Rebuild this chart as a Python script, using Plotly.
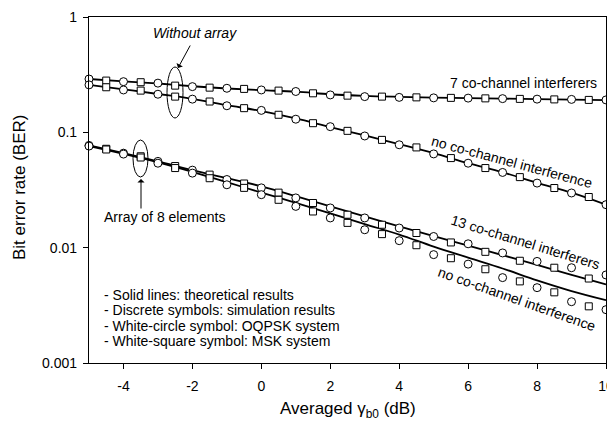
import plotly.graph_objects as go

# ---------------- data ----------------
x_th = [-5, -4, -3, -2, -1, 0, 1, 2, 3, 4, 5, 6, 7, 8, 9, 10]
x_circ = [-5, -4, -3, -2, -1, 0, 1, 2, 3, 4, 5, 6, 7, 8, 9, 10]
x_sq = [-4.5, -3.5, -2.5, -1.5, -0.5, 0.5, 1.5, 2.5, 3.5, 4.5, 5.5, 6.5, 7.5, 8.5, 9.5]

# Without array, 7 co-channel interferers
th_na_7 = [0.29, 0.277, 0.265, 0.251, 0.240, 0.232, 0.225, 0.214, 0.207, 0.203, 0.200, 0.198, 0.196, 0.194, 0.192, 0.190]
ci_na_7 = [0.29, 0.275, 0.267, 0.249, 0.241, 0.233, 0.226, 0.211, 0.204, 0.201, 0.199, 0.198, 0.196, 0.194, 0.193, 0.191]
sq_na_7 = [0.281, 0.272, 0.254, 0.244, 0.238, 0.230, 0.218, 0.208, 0.204, 0.201, 0.199, 0.197, 0.195, 0.193, 0.191]

# Without array, no co-channel interference
th_na_0 = [0.258, 0.236, 0.215, 0.195, 0.172, 0.153, 0.132, 0.111, 0.094, 0.079, 0.066, 0.054, 0.045, 0.0365, 0.030, 0.0236]
ci_na_0 = [0.258, 0.233, 0.214, 0.194, 0.170, 0.155, 0.130, 0.112, 0.093, 0.078, 0.065, 0.054, 0.0449, 0.0363, 0.0298, 0.0236]
sq_na_0 = [0.246, 0.230, 0.204, 0.185, 0.162, 0.142, 0.120, 0.103, 0.086, 0.074, 0.0598, 0.049, 0.0409, 0.0329, 0.0275]

# Array of 8 elements, 13 co-channel interferers
th_ar_13 = [0.077, 0.066, 0.056, 0.047, 0.040, 0.034, 0.028, 0.0228, 0.0187, 0.0153, 0.0126, 0.0104, 0.0086, 0.0071, 0.0058, 0.0048]
ci_ar_13 = [0.077, 0.066, 0.056, 0.047, 0.039, 0.033, 0.027, 0.0221, 0.0181, 0.0148, 0.0125, 0.0108, 0.0090, 0.0076, 0.0067, 0.0058]
sq_ar_13 = [0.072, 0.062, 0.051, 0.043, 0.036, 0.030, 0.0244, 0.0193, 0.0158, 0.0134, 0.0111, 0.0092, 0.0077, 0.0067, 0.0054]

# Array of 8 elements, no co-channel interference
th_ar_0 = [0.076, 0.065, 0.055, 0.0455, 0.037, 0.030, 0.0245, 0.0198, 0.016, 0.013, 0.0102, 0.0082, 0.0066, 0.0052, 0.0042, 0.0035]
ci_ar_0 = [0.076, 0.0648, 0.054, 0.0443, 0.0351, 0.0288, 0.0228, 0.0181, 0.0143, 0.0115, 0.0087, 0.0072, 0.0055, 0.0045, 0.0034, 0.0029]
sq_ar_0 = [0.071, 0.0605, 0.049, 0.040, 0.033, 0.026, 0.0206, 0.0164, 0.0131, 0.0105, 0.0081, 0.0065, 0.0051, 0.0041, 0.0031]

x_ticks = [-4, -2, 0, 2, 4, 6, 8, 10]
x_tick_text = ["-4", "-2", "0", "2", "4", "6", "8", "10"]
y_ticks = [0.001, 0.01, 0.1, 1]
y_tick_text = ["0.001", "0.01", "0.1", "1"]

FONT = "Arial, Liberation Sans, sans-serif"

# plot area in pixels
L, R, T, B = 89, 606, 17, 363
W, H = 607, 425


def fx(px):
    return (px - L) / (R - L)


def fy(py):
    return (B - py) / (B - T)


fig = go.Figure()

for th in [th_na_7, th_na_0, th_ar_13, th_ar_0]:
    fig.add_trace(go.Scatter(x=x_th, y=th, mode="lines", line=dict(color="black", width=1.8),
                             line_shape="spline", showlegend=False, hoverinfo="skip"))

for ci in [ci_na_7, ci_na_0, ci_ar_13, ci_ar_0]:
    fig.add_trace(go.Scatter(x=x_circ, y=ci, mode="markers", cliponaxis=False,
                             marker=dict(symbol="circle", size=8, color="white",
                                         line=dict(color="black", width=1)),
                             showlegend=False))

for sq in [sq_na_7, sq_na_0, sq_ar_13, sq_ar_0]:
    fig.add_trace(go.Scatter(x=x_sq, y=sq, mode="markers",
                             marker=dict(symbol="square", size=7, color="white",
                                         line=dict(color="black", width=1)),
                             showlegend=False))

ann = []


def text(px, py, s, size=14, angle=0, xanchor="center", italic=False):
    ann.append(dict(xref="paper", yref="paper", x=fx(px), y=fy(py), text=s,
                    showarrow=False, textangle=angle, xanchor=xanchor, yanchor="middle",
                    font=dict(family=FONT, size=size, color="black",
                              style="italic" if italic else "normal")))


text(195, 33, "Without array", italic=True)
text(102, 217, "Array of 8 elements", xanchor="left")
text(523, 83, "7 co-channel interferers")
text(512, 162, "no co-channel interference", angle=15)
text(525, 242, "13 co-channel interferers", angle=17)
text(517, 299, "no co-channel interference", angle=19.5)

legend_lines = ["- Solid lines: theoretical results",
                "- Discrete symbols: simulation results",
                "- White-circle symbol: OQPSK system",
                "- White-square symbol: MSK system"]
for i, s in enumerate(legend_lines):
    text(102, 295 + i * 15.3, s, xanchor="left")


def arrow(hx, hy, tx, ty):
    ann.append(dict(xref="paper", yref="paper", x=fx(hx), y=fy(hy), ax=tx - hx, ay=ty - hy,
                    axref="pixel", ayref="pixel", showarrow=True, arrowhead=1, arrowsize=1.2,
                    arrowwidth=1, arrowcolor="black", text=""))


arrow(178, 68, 191, 44)
arrow(141, 179, 141, 210)

# axis titles
text(348, 410, "Averaged γ<sub>b0</sub> (dB)", size=17)
text(20, 188, "Bit error rate (BER)", size=17, angle=-90)

shapes = [
    dict(type="circle", xref="paper", yref="paper", x0=fx(167), x1=fx(183), y0=fy(118), y1=fy(67),
         line=dict(color="black", width=1)),
    dict(type="circle", xref="paper", yref="paper", x0=fx(133), x1=fx(148), y0=fy(177), y1=fy(140),
         line=dict(color="black", width=1)),
]

fig.update_layout(
    width=W, height=H,
    margin=dict(l=L, r=W - R, t=T, b=H - B),
    paper_bgcolor="white", plot_bgcolor="white",
    font=dict(family=FONT, size=14, color="black"),
    annotations=ann, shapes=shapes,
    xaxis=dict(range=[-5, 10], tickvals=x_ticks, ticktext=x_tick_text, ticks="outside",
               ticklen=5, tickwidth=1,
               tickcolor="black", showline=True, linecolor="black", linewidth=1.2, mirror=True,
               showgrid=False, zeroline=False, ticklabelstandoff=5, automargin=False,
               ticklabeloverflow="allow",
               tickfont=dict(family=FONT, size=14, color="black")),
    yaxis=dict(type="log", range=[-3, 0], tickvals=y_ticks, ticktext=y_tick_text,
               ticks="outside", ticklen=5, tickwidth=1, tickcolor="black", showline=True,
               linecolor="black", linewidth=1.2, mirror=True, showgrid=False, zeroline=False,
               ticklabelstandoff=3, automargin=False, ticklabeloverflow="allow",
               tickfont=dict(family=FONT, size=14, color="black")),
)

fig.write_html("out.html", config={"displayModeBar": False},
               post_script="document.body.style.margin='0';document.body.style.overflow='hidden';")
